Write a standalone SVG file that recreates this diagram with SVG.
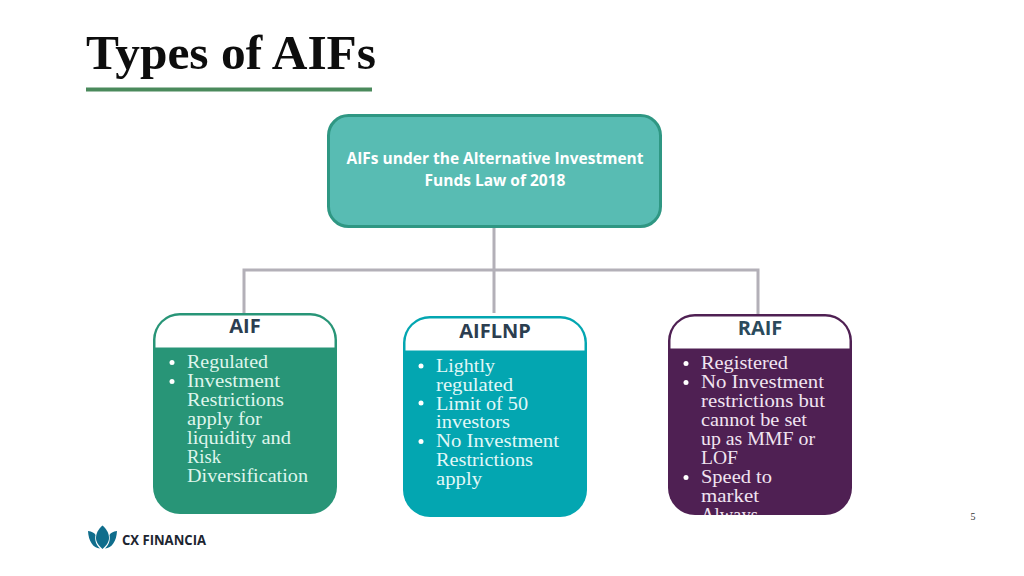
<svg xmlns="http://www.w3.org/2000/svg" width="1024" height="576" viewBox="0 0 1024 576">
<style>
.b text{font-family:"Liberation Serif",serif;font-size:18.500px;}
.h{font-family:"Open Sans",sans-serif;font-weight:700;font-size:20px;text-anchor:middle;}
.w1{fill:#dff5ec}.w2{fill:#e2f8f8}.w3{fill:#f1e4f1}
.c{fill:none;stroke:#b3b0b8;stroke-width:3}
</style>
<defs>
<clipPath id="clipR"><rect x="668" y="314" width="184" height="201" rx="28"/></clipPath>
</defs>
<rect width="1024" height="576" fill="#fff"/>
<g id="title">
<text x="86" y="68.500" font-family="Liberation Serif,serif" font-weight="700" font-size="49" textLength="290" lengthAdjust="spacingAndGlyphs" fill="#0d0d0d">Types of AIFs</text>
<rect x="86" y="87.500" width="286" height="4" fill="#4a8a5c"/>
</g>
<g id="connectors">
<path class="c" d="M494 228V313M244 313V270H758V314"/>
</g>
<g id="root">
<rect x="328.500" y="115.500" width="332" height="111" rx="20" fill="#58bcb3" stroke="#2f9783" stroke-width="3"/>
<text font-family="Open Sans,sans-serif" font-weight="700" font-size="15.500" fill="#fff" text-anchor="middle"><tspan x="495" y="164">AIFs under the Alternative Investment</tspan><tspan x="495" y="186">Funds Law of 2018</tspan></text>
</g>
<g id="aif">
<rect x="153" y="313" width="184" height="201" rx="27" fill="#289577"/>
<path d="M155.500 347.500V339A24 24 0 0 1 179.500 315.500H310.500A24 24 0 0 1 334.500 339V347.500Z" fill="#fff"/>
<text class="h" x="245" y="333" fill="#2c3e50">AIF</text>
<circle cx="172" cy="362.500" r="2.500" fill="#fff"/><circle cx="172" cy="381.500" r="2.500" fill="#fff"/>
<g class="b w1">
<text x="187" y="368" textLength="81" lengthAdjust="spacingAndGlyphs">Regulated</text>
<text x="187" y="387" textLength="93" lengthAdjust="spacingAndGlyphs">Investment</text>
<text x="187" y="406" textLength="97" lengthAdjust="spacingAndGlyphs">Restrictions</text>
<text x="187" y="425" textLength="75" lengthAdjust="spacingAndGlyphs">apply for</text>
<text x="187" y="444" textLength="104" lengthAdjust="spacingAndGlyphs">liquidity and</text>
<text x="187" y="463" textLength="34" lengthAdjust="spacingAndGlyphs">Risk</text>
<text x="187" y="482" textLength="121" lengthAdjust="spacingAndGlyphs">Diversification</text>
</g>
</g>
<g id="aiflnp">
<rect x="403" y="316" width="184" height="201" rx="27" fill="#03a6b1"/>
<path d="M405.500 350.500V342A24 24 0 0 1 429.500 318.500H560.500A24 24 0 0 1 584.500 342V350.500Z" fill="#fff"/>
<text class="h" x="495" y="338" fill="#2c3e50">AIFLNP</text>
<circle cx="421" cy="366" r="2.500" fill="#fff"/><circle cx="421" cy="403" r="2.500" fill="#fff"/><circle cx="421" cy="441.500" r="2.500" fill="#fff"/>
<g class="b w2">
<text x="436" y="372" textLength="59" lengthAdjust="spacingAndGlyphs">Lightly</text>
<text x="436" y="391" textLength="77" lengthAdjust="spacingAndGlyphs">regulated</text>
<text x="436" y="409.500" textLength="92" lengthAdjust="spacingAndGlyphs">Limit of 50</text>
<text x="436" y="428" textLength="74" lengthAdjust="spacingAndGlyphs">investors</text>
<text x="436" y="447" textLength="123" lengthAdjust="spacingAndGlyphs">No Investment</text>
<text x="436" y="466" textLength="97" lengthAdjust="spacingAndGlyphs">Restrictions</text>
<text x="436" y="485" textLength="46" lengthAdjust="spacingAndGlyphs">apply</text>
</g>
</g>
<g id="raif">
<rect x="668" y="314" width="184" height="201" rx="27" fill="#4f2053"/>
<path d="M670.500 348.500V340A24 24 0 0 1 694.500 316.500H825.500A24 24 0 0 1 849.500 340V348.500Z" fill="#fff"/>
<text class="h" x="760" y="335" fill="#2b4a5c">RAIF</text>
<circle cx="686" cy="363.500" r="2.500" fill="#fff"/><circle cx="686" cy="382.500" r="2.500" fill="#fff"/><circle cx="686" cy="477.500" r="2.500" fill="#fff"/>
<g class="b w3" clip-path="url(#clipR)">
<text x="701" y="369" textLength="87" lengthAdjust="spacingAndGlyphs">Registered</text>
<text x="701" y="388" textLength="123" lengthAdjust="spacingAndGlyphs">No Investment</text>
<text x="701" y="407" textLength="124" lengthAdjust="spacingAndGlyphs">restrictions but</text>
<text x="701" y="426" textLength="106" lengthAdjust="spacingAndGlyphs">cannot be set</text>
<text x="701" y="445" textLength="114" lengthAdjust="spacingAndGlyphs">up as MMF or</text>
<text x="701" y="464" textLength="37" lengthAdjust="spacingAndGlyphs">LOF</text>
<text x="701" y="483" textLength="71" lengthAdjust="spacingAndGlyphs">Speed to</text>
<text x="701" y="502" textLength="58" lengthAdjust="spacingAndGlyphs">market</text>
<text x="701" y="521" textLength="57" lengthAdjust="spacingAndGlyphs">Always</text>
</g>
</g>
<g id="logo" fill="#0f6d8c">
<path d="M102.500 525.500C106.500 529 109 533 109 538C109 542 106 546 102.500 549C99 546 96 542 96 538C96 533 98.500 529 102.500 525.500Z"/>
<path d="M88 531C92 531.500 94.500 533 95.500 535C94.500 540 96 545 100 548.500C93 548 88.500 541 88 531Z"/>
<path d="M117 531C113 531.500 110.500 533 109.500 535C110.500 540 109 545 105 548.500C112 548 116.500 541 117 531Z"/>
<text x="122" y="544.500" font-family="Open Sans,sans-serif" font-weight="700" font-size="13.500" textLength="84" lengthAdjust="spacingAndGlyphs" fill="#1d2530">CX FINANCIA</text>
</g>
<text id="page" x="973" y="520" font-family="Liberation Serif,serif" font-size="10" text-anchor="middle" fill="#333">5</text>
</svg>
